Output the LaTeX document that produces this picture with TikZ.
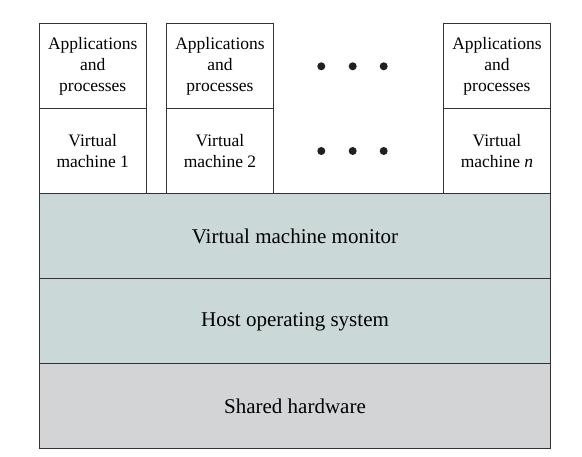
\documentclass[tikz,border=0pt]{standalone}
\usepackage{fontspec}
\setmainfont{Liberation Serif}
\definecolor{linec}{HTML}{333333}
\definecolor{layerblue}{HTML}{CAD9D8}
\definecolor{hwgray}{HTML}{D3D4D6}
\definecolor{dotc}{HTML}{231F20}
\begin{document}
\begin{tikzpicture}[x=1pt,y=-1pt,
  box/.style={draw=linec,line width=1pt,fill=white,inner sep=0pt,outer sep=0pt,
    minimum width=106.5pt,minimum height=85pt,align=center,
    font=\fontsize{17.5}{21}\selectfont},
  layer/.style={draw=linec,line width=1pt,inner sep=0pt,outer sep=0pt,
    minimum width=511pt,minimum height=85pt,
    font=\fontsize{21}{25}\selectfont},
  dot/.style={circle,fill=dotc,inner sep=0pt,minimum size=8pt}]
\useasboundingbox (0,0) rectangle (582,457);
\node[layer,fill=hwgray,minimum height=84.5pt] (hw) at (295,406.25) {Shared hardware};
\node[layer,fill=layerblue] (host) at (295,321.5) {Host operating system};
\node[layer,fill=layerblue] (vmm) at (295,236.5) {Virtual machine monitor};
\node[box] (a1) at (92.75,66) {Applications\\and\\processes};
\node[box,minimum height=85.5pt] (v1) at (92.75,151.25) {Virtual\\machine 1};
\node[box] (a2) at (220,66) {Applications\\and\\processes};
\node[box,minimum height=85.5pt] (v2) at (220,151.25) {Virtual\\machine 2};
\node[box] (an) at (497,66) {Applications\\and\\processes};
\node[box,minimum height=85.5pt] (vn) at (497,151.25) {Virtual\\machine \textit{n}};
\node[dot] (d1) at (321.3,66.3) {};
\node[dot] (d2) at (352.7,66.3) {};
\node[dot] (d3) at (383.7,66.3) {};
\node[dot] (e1) at (321.3,151) {};
\node[dot] (e2) at (352.7,151) {};
\node[dot] (e3) at (383.7,151) {};
\end{tikzpicture}
\end{document}
